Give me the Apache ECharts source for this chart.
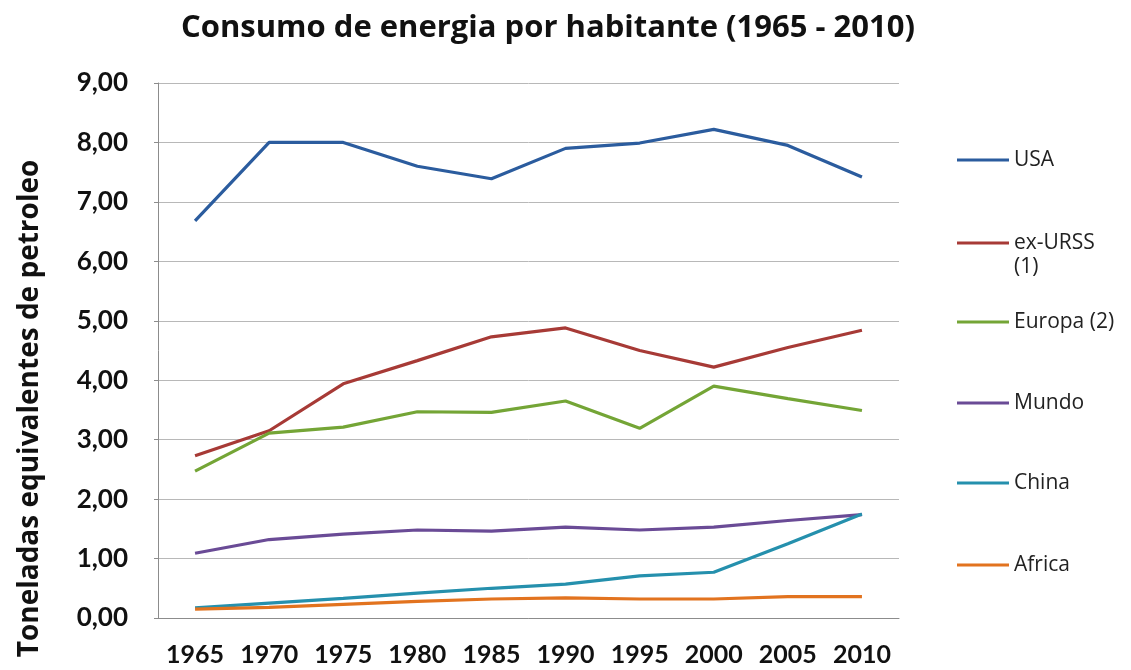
<!DOCTYPE html>
<html>
<head>
<meta charset="utf-8">
<title>Consumo de energia por habitante (1965 - 2010)</title>
<script src="https://cdn.jsdelivr.net/npm/echarts@6/dist/echarts.min.js"></script>
<style>
  html, body { margin: 0; padding: 0; background: #ffffff; }
  #chart { width: 1131px; height: 670px; }
</style>
</head>
<body>
<div id="chart"></div>
<script>
// Years on the horizontal axis
const years = ['1965', '1970', '1975', '1980', '1985', '1990', '1995', '2000', '2005', '2010'];

// Toneladas equivalentes de petroleo por habitante
const usa     = [6.68, 8.00, 8.00, 7.60, 7.39, 7.90, 7.99, 8.22, 7.95, 7.42];
const exUrss  = [2.73, 3.15, 3.94, 4.33, 4.73, 4.88, 4.50, 4.22, 4.55, 4.84];
const europa  = [2.47, 3.11, 3.21, 3.47, 3.46, 3.65, 3.19, 3.90, 3.69, 3.49];
const mundo   = [1.09, 1.32, 1.41, 1.48, 1.46, 1.53, 1.48, 1.53, 1.64, 1.74];
const china   = [0.17, 0.25, 0.33, 0.42, 0.50, 0.57, 0.71, 0.77, 1.25, 1.75];
const africa  = [0.15, 0.18, 0.23, 0.28, 0.32, 0.34, 0.32, 0.32, 0.36, 0.36];

const yTicks = { min: 0, max: 9, interval: 1 };

const seriesDefs = [
  { name: 'USA',         label: 'USA',        data: usa,    color: '#2b5c9e', y: 160 },
  { name: 'ex-URSS (1)', label: 'ex-URSS',    data: exUrss, color: '#a73a36', y: 243 },
  { name: 'Europa (2)',  label: 'Europa (2)', data: europa, color: '#74a536', y: 322 },
  { name: 'Mundo',       label: 'Mundo',      data: mundo,  color: '#6a4b96', y: 403 },
  { name: 'China',       label: 'China',      data: china,  color: '#2590ad', y: 483 },
  { name: 'Africa',      label: 'Africa',     data: africa, color: '#e2731f', y: 565 }
];

const narrowSans = 'Lato, "Open Sans", sans-serif';
const wideSans = '"Open Sans", Lato, sans-serif';

const chart = echarts.init(document.getElementById('chart'), null, { renderer: 'canvas' });

chart.setOption({
  backgroundColor: '#ffffff',
  animation: false,
  title: {
    text: 'Consumo de energia por habitante (1965 - 2010)',
    left: 543,
    textAlign: 'center',
    top: 8,
    textStyle: { fontFamily: wideSans, fontWeight: 'bold', fontSize: 31, color: '#111' }
  },
  grid: { left: 158, right: 232, top: 83, bottom: 52, containLabel: false },
  // one legend per entry so each sits at its own row
  legend: seriesDefs.map(function (s) {
    return {
      data: [s.name],
      orient: 'vertical',
      left: 957,
      top: s.y - 12,
      padding: 0,
      icon: 'rect',
      itemWidth: 52,
      itemHeight: 3,
      itemGap: 0,
      selectedMode: false,
      formatter: function () { return s.label; },
      textStyle: { fontFamily: wideSans, fontSize: 21, lineHeight: 24, color: '#222' }
    };
  }),
  graphic: [{
    type: 'text',
    left: 1014,
    top: 257,
    style: { text: '(1)', font: '21px ' + wideSans, fill: '#222' }
  }],
  xAxis: {
    type: 'category',
    data: years,
    boundaryGap: true,
    axisLine: { show: true, lineStyle: { color: '#8c8c8c', width: 1 } },
    axisTick: { show: false },
    axisLabel: {
      interval: 0,
      hideOverlap: false,
      margin: 24,
      fontFamily: narrowSans,
      fontWeight: 'bold',
      fontSize: 25,
      color: '#111'
    },
    splitLine: { show: false }
  },
  yAxis: {
    type: 'value',
    min: yTicks.min,
    max: yTicks.max,
    interval: yTicks.interval,
    name: 'Toneladas equivalentes de petroleo',
    nameLocation: 'middle',
    nameRotate: 90,
    nameGap: 114,
    nameTextStyle: {
      fontFamily: wideSans,
      fontWeight: 'bold',
      fontSize: 28,
      color: '#111',
      padding: [0, 116, 0, 0]
    },
    axisLine: { show: true, lineStyle: { color: '#8c8c8c', width: 1 } },
    axisTick: { show: true, length: 4, lineStyle: { color: '#8c8c8c' } },
    axisLabel: {
      margin: 30,
      fontFamily: narrowSans,
      fontWeight: 'bold',
      fontSize: 26,
      color: '#111',
      formatter: function (v) { return v.toFixed(2).replace('.', ','); }
    },
    splitLine: { show: true, lineStyle: { color: '#b8b8b8', width: 1 } }
  },
  series: seriesDefs.map(function (s) {
    return {
      name: s.name,
      type: 'line',
      data: s.data,
      symbol: 'none',
      smooth: false,
      color: s.color,
      lineStyle: { color: s.color, width: 3.2 },
      z: 3
    };
  })
});
</script>
</body>
</html>
